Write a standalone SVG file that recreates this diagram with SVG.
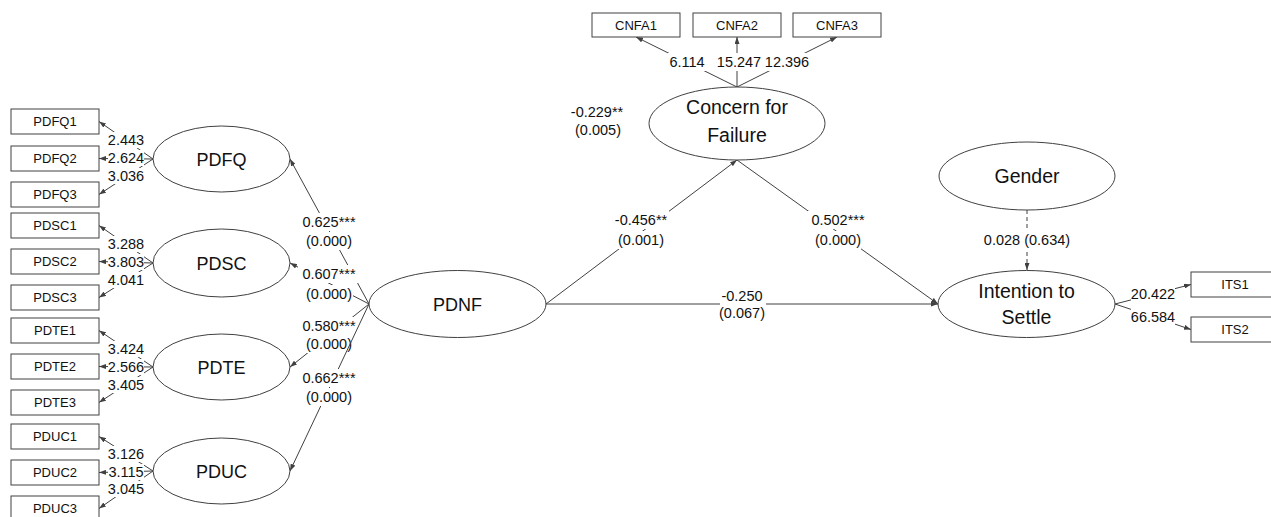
<svg xmlns="http://www.w3.org/2000/svg" width="1271" height="517" viewBox="0 0 1271 517">
  <style>
    text { font-family: "Liberation Sans", Arial, sans-serif; fill: #111; text-anchor: middle; }
    .box { fill: #fff; stroke: #404040; stroke-width: 1; }
    .lv { fill: #fff; stroke: #404040; stroke-width: 1; }
    .bt { font-size: 13px; }
    .lt { font-size: 18px; }
    .lt2 { font-size: 19.5px; }
    .el { font-size: 14.5px; }
    .c { fill: none; stroke: #404040; stroke-width: 1; marker-end: url(#ah); }
    .dash { stroke-dasharray: 4 3; }
    .bg { fill: #fff; }
  </style>
  <defs>
    <marker id="ah" viewBox="0 0 7 5" refX="7" refY="2.5" markerWidth="7" markerHeight="5" markerUnits="userSpaceOnUse" orient="auto">
      <path d="M0,0 L7,2.5 L0,5 z" fill="#404040"/>
    </marker>
  </defs>

  <!-- connectors with their labels -->
  <g id="connectors">
    <!-- PDFQ indicators -->
    <line class="c" x1="153" y1="159" x2="99" y2="121.5"/>
    <line class="c" x1="153" y1="159" x2="99" y2="158.5"/>
    <line class="c" x1="153" y1="159" x2="99" y2="194.5"/>
    <rect class="bg" x="108" y="132" width="36" height="16"/><text class="el" x="126" y="145">2.443</text>
    <rect class="bg" x="108" y="150" width="36" height="16"/><text class="el" x="126" y="163">2.624</text>
    <rect class="bg" x="108" y="168" width="36" height="16"/><text class="el" x="126" y="181">3.036</text>

    <!-- PDSC indicators -->
    <line class="c" x1="153" y1="263" x2="99" y2="225.5"/>
    <line class="c" x1="153" y1="263" x2="99" y2="261.5"/>
    <line class="c" x1="153" y1="263" x2="99" y2="297.5"/>
    <rect class="bg" x="108" y="236" width="36" height="16"/><text class="el" x="126" y="249">3.288</text>
    <rect class="bg" x="108" y="254" width="36" height="16"/><text class="el" x="126" y="267">3.803</text>
    <rect class="bg" x="108" y="272" width="36" height="16"/><text class="el" x="126" y="285">4.041</text>

    <!-- PDTE indicators -->
    <line class="c" x1="153" y1="367" x2="99" y2="330.5"/>
    <line class="c" x1="153" y1="367" x2="99" y2="366.5"/>
    <line class="c" x1="153" y1="367" x2="99" y2="402.5"/>
    <rect class="bg" x="108" y="341" width="36" height="16"/><text class="el" x="126" y="354">3.424</text>
    <rect class="bg" x="108" y="359" width="36" height="16"/><text class="el" x="126" y="372">2.566</text>
    <rect class="bg" x="108" y="377" width="36" height="16"/><text class="el" x="126" y="390">3.405</text>

    <!-- PDUC indicators -->
    <line class="c" x1="153" y1="471" x2="99" y2="436.5"/>
    <line class="c" x1="153" y1="471" x2="99" y2="472.5"/>
    <line class="c" x1="153" y1="471" x2="99" y2="508.5"/>
    <rect class="bg" x="108" y="446" width="36" height="16"/><text class="el" x="126" y="459">3.126</text>
    <rect class="bg" x="108" y="464" width="36" height="16"/><text class="el" x="126" y="477">3.115</text>
    <rect class="bg" x="108" y="481" width="36" height="16"/><text class="el" x="126" y="494">3.045</text>

    <!-- PDNF to its dimensions -->
    <line class="c" x1="369" y1="304" x2="290" y2="159"/>
    <rect class="bg" x="298" y="213" width="62" height="18"/><text class="el" x="329" y="227">0.625***</text>
    <rect class="bg" x="306" y="232" width="47" height="18"/><text class="el" x="329" y="246">(0.000)</text>

    <line class="c" x1="369" y1="304" x2="290" y2="263"/>
    <rect class="bg" x="298" y="265" width="62" height="18"/><text class="el" x="329" y="279">0.607***</text>
    <rect class="bg" x="306" y="285" width="47" height="18"/><text class="el" x="329" y="299">(0.000)</text>

    <line class="c" x1="369" y1="304" x2="290" y2="367"/>
    <rect class="bg" x="298" y="317" width="62" height="18"/><text class="el" x="329" y="331">0.580***</text>
    <rect class="bg" x="306" y="335" width="47" height="18"/><text class="el" x="329" y="349">(0.000)</text>

    <line class="c" x1="369" y1="304" x2="290" y2="471"/>
    <rect class="bg" x="298" y="369" width="62" height="18"/><text class="el" x="329" y="383">0.662***</text>
    <rect class="bg" x="306" y="388" width="47" height="18"/><text class="el" x="329" y="402">(0.000)</text>

    <!-- Concern for Failure indicators -->
    <line class="c" x1="737" y1="87" x2="636" y2="37"/>
    <line class="c" x1="737" y1="87" x2="737" y2="37"/>
    <line class="c" x1="737" y1="87" x2="837" y2="37"/>
    <rect class="bg" x="668" y="53" width="38" height="18"/><text class="el" x="687" y="67">6.114</text>
    <rect class="bg" x="716" y="53" width="46" height="18"/><text class="el" x="739" y="67">15.247</text>
    <rect class="bg" x="765" y="53" width="45" height="18"/><text class="el" x="787" y="67">12.396</text>

    <!-- indirect effect -->
    <text class="el" x="597" y="117">-0.229**</text>
    <text class="el" x="598" y="135">(0.005)</text>

    <!-- structural paths -->
    <line class="c" x1="546" y1="304" x2="737" y2="160"/>
    <rect class="bg" x="613" y="211" width="56" height="18"/><text class="el" x="641" y="225">-0.456**</text>
    <rect class="bg" x="618" y="231" width="46" height="18"/><text class="el" x="641" y="245">(0.001)</text>

    <line class="c" x1="737" y1="160" x2="938" y2="304"/>
    <rect class="bg" x="808" y="211" width="60" height="18"/><text class="el" x="838" y="225">0.502***</text>
    <rect class="bg" x="815" y="231" width="46" height="18"/><text class="el" x="838" y="245">(0.000)</text>

    <line class="c" x1="546" y1="304" x2="938" y2="304"/>
    <rect class="bg" x="720" y="287" width="46" height="18"/><text class="el" x="742" y="301">-0.250</text>
    <rect class="bg" x="719" y="305" width="47" height="17"/><text class="el" x="742" y="318">(0.067)</text>

    <line class="c dash" x1="1027" y1="210" x2="1027" y2="270"/>
    <rect class="bg" x="982" y="231" width="90" height="18"/><text class="el" x="1027" y="245">0.028 (0.634)</text>

    <!-- Intention to Settle indicators -->
    <line class="c" x1="1115" y1="304" x2="1191" y2="284.5"/>
    <line class="c" x1="1115" y1="304" x2="1191" y2="329.5"/>
    <rect class="bg" x="1131" y="285" width="44" height="18"/><text class="el" x="1153" y="299">20.422</text>
    <rect class="bg" x="1131" y="308" width="44" height="18"/><text class="el" x="1153" y="322">66.584</text>
  </g>

  <!-- indicator boxes -->
  <g id="PDFQ1"><rect class="box" x="11" y="109" width="88" height="25"/><text class="bt" x="55" y="126">PDFQ1</text></g>
  <g id="PDFQ2"><rect class="box" x="11" y="146" width="88" height="25"/><text class="bt" x="55" y="163">PDFQ2</text></g>
  <g id="PDFQ3"><rect class="box" x="11" y="182" width="88" height="25"/><text class="bt" x="55" y="199">PDFQ3</text></g>
  <g id="PDSC1"><rect class="box" x="11" y="213" width="88" height="25"/><text class="bt" x="55" y="230">PDSC1</text></g>
  <g id="PDSC2"><rect class="box" x="11" y="249" width="88" height="25"/><text class="bt" x="55" y="266">PDSC2</text></g>
  <g id="PDSC3"><rect class="box" x="11" y="285" width="88" height="25"/><text class="bt" x="55" y="302">PDSC3</text></g>
  <g id="PDTE1"><rect class="box" x="11" y="318" width="88" height="25"/><text class="bt" x="55" y="335">PDTE1</text></g>
  <g id="PDTE2"><rect class="box" x="11" y="354" width="88" height="25"/><text class="bt" x="55" y="371">PDTE2</text></g>
  <g id="PDTE3"><rect class="box" x="11" y="390" width="88" height="25"/><text class="bt" x="55" y="407">PDTE3</text></g>
  <g id="PDUC1"><rect class="box" x="11" y="424" width="88" height="25"/><text class="bt" x="55" y="441">PDUC1</text></g>
  <g id="PDUC2"><rect class="box" x="11" y="460" width="88" height="25"/><text class="bt" x="55" y="477">PDUC2</text></g>
  <g id="PDUC3"><rect class="box" x="11" y="496" width="88" height="25"/><text class="bt" x="55" y="513">PDUC3</text></g>

  <g id="CNFA1"><rect class="box" x="592" y="13" width="88" height="24"/><text class="bt" x="636" y="30">CNFA1</text></g>
  <g id="CNFA2"><rect class="box" x="693" y="13" width="88" height="24"/><text class="bt" x="737" y="30">CNFA2</text></g>
  <g id="CNFA3"><rect class="box" x="793" y="13" width="88" height="24"/><text class="bt" x="837" y="30">CNFA3</text></g>

  <g id="ITS1"><rect class="box" x="1191" y="272" width="88" height="25"/><text class="bt" x="1235" y="289">ITS1</text></g>
  <g id="ITS2"><rect class="box" x="1191" y="317" width="88" height="25"/><text class="bt" x="1235" y="334">ITS2</text></g>

  <!-- latent variables -->
  <g id="PDFQ"><ellipse class="lv" cx="221.5" cy="159" rx="68.5" ry="33"/><text class="lt" x="221.5" y="165.5">PDFQ</text></g>
  <g id="PDSC"><ellipse class="lv" cx="221.5" cy="263" rx="68.5" ry="34"/><text class="lt" x="221.5" y="269.5">PDSC</text></g>
  <g id="PDTE"><ellipse class="lv" cx="221.5" cy="367" rx="68.5" ry="33"/><text class="lt" x="221.5" y="373.5">PDTE</text></g>
  <g id="PDUC"><ellipse class="lv" cx="221.5" cy="471" rx="68.5" ry="33"/><text class="lt" x="221.5" y="477.5">PDUC</text></g>
  <g id="PDNF"><ellipse class="lv" cx="457.5" cy="304" rx="88.5" ry="33.5"/><text class="lt" x="457.5" y="311">PDNF</text></g>
  <g id="CNFA"><ellipse class="lv" cx="737" cy="123.5" rx="88" ry="36.5"/><text class="lt2" x="737" y="114">Concern for</text><text class="lt2" x="737" y="142">Failure</text></g>
  <g id="Gender"><ellipse class="lv" cx="1027" cy="176" rx="88" ry="34"/><text class="lt2" x="1027" y="183">Gender</text></g>
  <g id="ITS"><ellipse class="lv" cx="1026.5" cy="304" rx="88.5" ry="33.5"/><text class="lt2" x="1026.5" y="298">Intention to</text><text class="lt2" x="1026.5" y="324">Settle</text></g>
</svg>
